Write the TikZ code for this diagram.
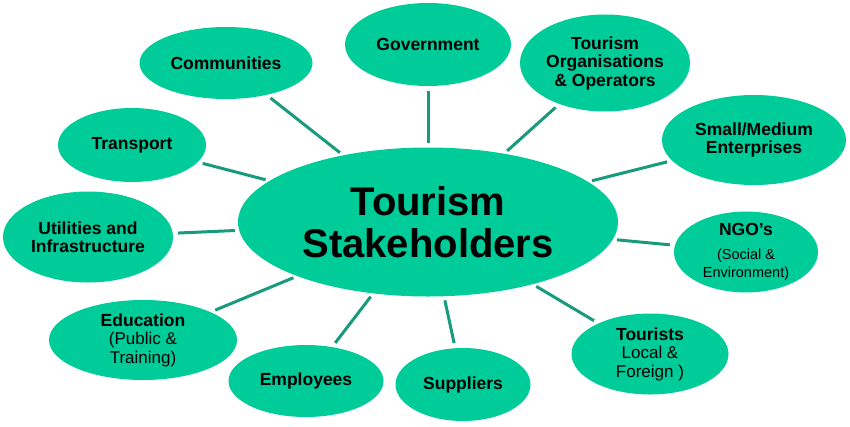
\documentclass[tikz,border=0pt]{standalone}
\usepackage{fontspec}
\setmainfont{Liberation Sans}
\usetikzlibrary{shapes.geometric}
\definecolor{stakefill}{RGB}{0,204,153}
\definecolor{stakeline}{RGB}{24,155,125}
\newcommand{\plaintext}[2][17]{{\mdseries\fontsize{#1}{19}\selectfont #2}}

\begin{document}
\begin{tikzpicture}[x=1pt,y=-1pt,
    stake/.style={ellipse,fill=stakefill,inner sep=0pt,align=center,
      font=\fontsize{17.5}{18.5}\selectfont\bfseries},
    hub/.style={stake,font=\fontsize{40}{42}\selectfont\bfseries},
    link/.style={draw=stakeline,line width=3pt,shorten >=4pt,shorten <=5pt}]
	\useasboundingbox (0,0) rectangle (850,426);
	% centre
	\node[hub,minimum width=380pt,minimum height=149pt] (hub) at (428,222) {Tourism\\Stakeholders};
	% stakeholders round it
	\node[stake,minimum width=173pt,minimum height=72pt] (comm) at (226,63) {Communities};
	\node[stake,minimum width=166pt,minimum height=83pt] (gov) at (428,44.5) {Government};
	\node[stake,minimum width=170pt,minimum height=97pt] (org) at (605,63) {Tourism\\Organisations\\\& Operators};
	\node[stake,minimum width=184pt,minimum height=90pt] (sme) at (754,140) {Small/Medium\\Enterprises};
	\node[stake,minimum width=144pt,minimum height=80pt] (ngo) at (746,252) {NGO's\\[5pt]\plaintext[14.5]{(Social \&}\\\plaintext[14.5]{Environment)}};
	\node[stake,minimum width=157pt,minimum height=81pt] (tour) at (650,354) {Tourists\\\plaintext{Local \&}\\\plaintext{Foreign )}};
	\node[stake,minimum width=135pt,minimum height=73pt] (supp) at (463,384.5) {Suppliers};
	\node[stake,minimum width=155pt,minimum height=72pt] (emp) at (306,381) {Employees};
	\node[stake,minimum width=188pt,minimum height=80pt] (edu) at (143,340) {Education\\\plaintext{(Public \&}\\\plaintext{Training)}};
	\node[stake,minimum width=170pt,minimum height=91pt] (util) at (88,237) {Utilities and\\Infrastructure};
	\node[stake,minimum width=148pt,minimum height=74pt] (trans) at (132,145) {Transport};
	% spokes
	\foreach \s in {comm,gov,org,sme,ngo,tour,supp,emp,edu,util,trans}
		\draw[link] (\s) -- (hub);
\end{tikzpicture}
\end{document}
